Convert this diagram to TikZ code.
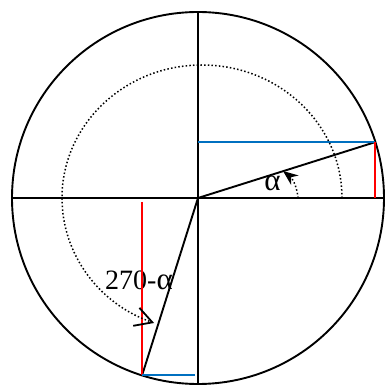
\documentclass[tikz,border=0pt]{standalone}
\usepackage{fontspec}
\setmainfont{Liberation Serif}
\usetikzlibrary{arrows.meta}
\definecolor{sinc}{RGB}{255,0,0}
\definecolor{cosc}{RGB}{0,112,192}
\newcommand{\alf}{{\fontsize{31}{34}\selectfont α}}
\tikzset{axis/.style={line width=1.9pt},
  proj/.style={line width=1.9pt},
  dots/.style={line width=1.5pt,dash pattern=on 1.5pt off 2.2pt},
  lbl/.style={inner sep=0pt,font=\fontsize{28}{32}\selectfont}}
\begin{document}
\begin{tikzpicture}[x=1pt,y=1pt,>=Stealth]
\useasboundingbox (-198,-187) rectangle (186,198);
\coordinate (O) at (0,0);
\coordinate (P) at (17.5:186);
\coordinate (Q) at (252.5:186);
\coordinate (W) at (-187,0); \coordinate (E) at (186,0);
\coordinate (N) at (0,186); \coordinate (S) at (0,-187);
\coordinate (Sa) at (0,-4); \coordinate (Sb) at (-3,0);
% unit circle and axes
\draw[axis] (O) circle[radius=186];
\draw[axis] (W)--(E); \draw[axis] (N)--(S);
% labels
\node[lbl] (alab) at (74.5,14.5) {\alf};
\node[lbl,anchor=base west] (blab) at (-93,-92) {270-\alf};
% radii and projections
\draw[axis] (O)--(P); \draw[axis] (O)--(Q);
\draw[cosc,proj] (P -| O)--(P);
\draw[sinc,proj] (P |- O)--(P);
\draw[sinc,proj] (Q |- Sa)--(Q);
\draw[cosc,proj] (Sb |- Q)--(Q);
% angle arcs
\draw[dots,-{Stealth[length=15pt,width=12pt]}] (O) ++(100,0) .. controls (99,12) and (94,20) .. (85,27);
\draw[dots,-{Straight Barb[length=17pt,width=19pt,line width=1.8pt]}] (O) ++(144,0) arc[start angle=0,end angle=250,x radius=140,y radius=133];
\end{tikzpicture}
\end{document}
